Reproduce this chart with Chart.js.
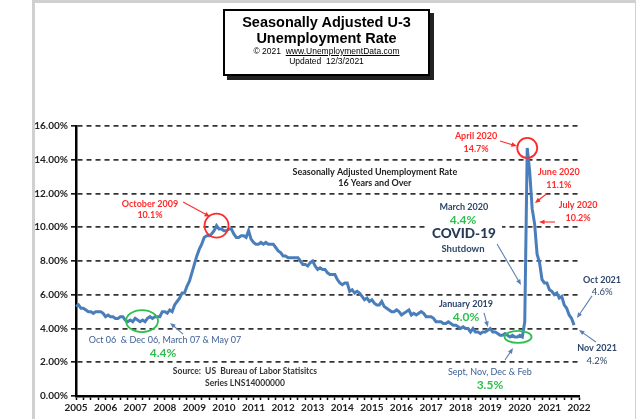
<!DOCTYPE html>
<html>
<head>
<meta charset="utf-8">
<script src="https://cdn.jsdelivr.net/npm/chart.js@4.4.0/dist/chart.umd.min.js"></script>
<style>
  body { margin: 0; background: #fff; }
  #wrap { position: relative; width: 640px; height: 419px; overflow: hidden; }
  #frame { position: absolute; left: 32px; top: 0; width: 600px; height: 430px;
           border-left: 3px solid #d0d0d0; border-top: 3px solid #d0d0d0; border-right: 1px solid #d0d0d0; }
  #titleBox { position: absolute; left: 223px; top: 9px; width: 203px; height: 63px;
              border: 2px solid #000; background: #fff; box-shadow: 4px 4px 0 #222;
              font-family: "Liberation Sans", Arial, sans-serif; text-align: center; color: #000; }
  #titleBox .t { font-weight: bold; font-size: 14.5px; line-height: 16px; }
  #titleBox .s { font-size: 8.5px; line-height: 10px; }
  canvas { position: absolute; left: 0; top: 0; }
</style>
</head>
<body>
<div id="wrap">
  <div id="frame"></div>
  <canvas id="myChart" width="640" height="419"></canvas>
  <div id="titleBox">
    <div class="t" style="margin-top:3px">Seasonally Adjusted U-3</div>
    <div class="t">Unemployment Rate</div>
    <div class="s">© 2021&nbsp; <u>www.UnemploymentData.com</u></div>
    <div class="s">Updated&nbsp; 12/3/2021</div>
  </div>
</div>
<script>
// monthly U-3 rate, Jan..Dec
const years = [2005, 2006, 2007, 2008, 2009, 2010, 2011, 2012, 2013, 2014, 2015, 2016, 2017, 2018, 2019, 2020, 2021, 2022];
const rate2005 = [5.3, 5.4, 5.2, 5.2, 5.1, 5.0, 5.0, 4.9, 5.0, 5.0, 5.0, 4.9];
const rate2006 = [4.7, 4.8, 4.7, 4.7, 4.6, 4.6, 4.7, 4.7, 4.5, 4.4, 4.5, 4.4];
const rate2007 = [4.6, 4.5, 4.4, 4.5, 4.4, 4.6, 4.7, 4.6, 4.7, 4.7, 4.7, 5.0];
const rate2008 = [5.0, 4.9, 5.1, 5.0, 5.4, 5.6, 5.8, 6.1, 6.1, 6.5, 6.8, 7.3];
const rate2009 = [7.8, 8.3, 8.7, 9.0, 9.4, 9.5, 9.5, 9.6, 9.8, 10.1, 9.9, 9.9];
const rate2010 = [9.8, 9.8, 9.9, 9.9, 9.6, 9.4, 9.4, 9.5, 9.5, 9.4, 9.8, 9.3];
const rate2011 = [9.1, 9.0, 9.0, 9.1, 9.0, 9.1, 9.0, 9.0, 9.0, 8.8, 8.6, 8.5];
const rate2012 = [8.3, 8.3, 8.2, 8.2, 8.2, 8.2, 8.2, 8.0, 7.8, 7.8, 7.7, 7.9];
const rate2013 = [8.0, 7.7, 7.5, 7.6, 7.5, 7.5, 7.3, 7.2, 7.2, 7.2, 6.9, 6.7];
const rate2014 = [6.6, 6.7, 6.7, 6.2, 6.3, 6.1, 6.2, 6.1, 5.9, 5.7, 5.8, 5.6];
const rate2015 = [5.7, 5.5, 5.4, 5.4, 5.6, 5.3, 5.2, 5.1, 5.0, 5.0, 5.1, 5.0];
const rate2016 = [4.8, 4.9, 5.0, 5.1, 4.8, 4.9, 4.8, 4.9, 5.0, 4.9, 4.7, 4.7];
const rate2017 = [4.7, 4.6, 4.4, 4.4, 4.4, 4.3, 4.3, 4.4, 4.3, 4.2, 4.2, 4.1];
const rate2018 = [4.0, 4.1, 4.0, 4.0, 3.8, 4.0, 3.8, 3.8, 3.7, 3.8, 3.8, 3.9];
const rate2019 = [4.0, 3.8, 3.8, 3.7, 3.6, 3.6, 3.7, 3.6, 3.5, 3.6, 3.5, 3.5];
const rate2020 = [3.6, 3.5, 4.4, 14.7, 13.3, 11.1, 10.2, 8.4, 7.9, 6.9, 6.7, 6.7];
const rate2021 = [6.3, 6.2, 6.0, 6.1, 5.8, 5.9, 5.4, 5.2, 4.8, 4.6, 4.2];
const yTicks = [0, 2, 4, 6, 8, 10, 12, 14, 16];

const rates = [].concat(rate2005, rate2006, rate2007, rate2008, rate2009, rate2010, rate2011,
  rate2012, rate2013, rate2014, rate2015, rate2016, rate2017, rate2018, rate2019, rate2020, rate2021);

let labels = [];
for (let i = 0; i < years.length; i++) {
  let n = years[i] === 2022 ? 1 : 12;
  for (let m = 0; m < n; m++) labels.push(years[i] + '-' + (m + 1));
}

const RED = '#ff2b2b', GREEN = '#2fbf4f', NAVY = '#2d4669', BLUE = '#3d5f94', DARK = '#222';

// annotation texts, placed in (year, percent) units
const notes = [
  ['October 2009', 2007.5, 11.38, RED, 'bold 9px Lato'],
  ['10.1%', 2007.5, 10.72, RED, 'bold 9px Lato'],
  ['April 2020', 2018.52, 15.41, RED, 'bold 9px Lato'],
  ['14.7%', 2018.52, 14.64, RED, 'bold 9px Lato'],
  ['June 2020', 2021.32, 13.27, RED, 'bold 9px Lato'],
  ['11.1%', 2021.32, 12.5, RED, 'bold 9px Lato'],
  ['July 2020', 2021.97, 11.32, RED, 'bold 9px Lato'],
  ['10.2%', 2021.97, 10.55, RED, 'bold 9px Lato'],
  ['Seasonally Adjusted Unemployment Rate', 2015.1, 13.27, DARK, 'bold 9px Lato'],
  ['16 Years and Over', 2015.1, 12.62, DARK, 'bold 9px Lato'],
  ['March 2020', 2018.11, 11.2, NAVY, 'bold 9px Lato'],
  ['4.4%', 2018.08, 10.43, GREEN, 'bold 12px Lato'],
  ['COVID-19', 2018.11, 9.6, '#263b58', '900 13.5px Lato'],
  ['Shutdown', 2018.08, 8.71, NAVY, 'bold 9.5px Lato'],
  ['Oct 2021', 2022.78, 6.87, NAVY, 'bold 9px Lato'],
  ['4.6%', 2022.78, 6.16, NAVY, '9.5px Lato'],
  ['Nov 2021', 2022.61, 2.84, NAVY, 'bold 9px Lato'],
  ['4.2%', 2022.61, 2.07, NAVY, '9.5px Lato'],
  ['January 2019', 2018.18, 5.45, NAVY, 'bold 9px Lato'],
  ['4.0%', 2018.18, 4.68, GREEN, 'bold 12px Lato'],
  ['Sept, Nov, Dec & Feb', 2018.99, 1.42, BLUE, '9px Lato'],
  ['3.5%', 2018.99, 0.65, GREEN, 'bold 12px Lato'],
  ['Oct 06  & Dec 06, March 07 & May 07', 2008.01, 3.32, BLUE, '9px Lato'],
  ['4.4%', 2007.94, 2.55, GREEN, 'bold 12px Lato'],
  ['Source:  US  Bureau of Labor Statisitcs', 2010.71, 1.48, '#333', 'bold 8.5px Lato'],
  ['Series LNS14000000', 2010.71, 0.77, '#333', 'bold 8.5px Lato']
];
// arrows: from (year, pct) to (year, pct)
const arrows = [
  [2008.62, 11.5, 2009.53, 10.62, RED],
  [2019.33, 15.11, 2019.9, 14.81, RED],
  [2020.92, 12.0, 2020.51, 11.44, RED],
  [2021.19, 10.31, 2020.65, 10.31, RED],
  [2019.23, 9.01, 2020.04, 6.58, '#5b80b4'],
  [2022.44, 5.93, 2021.93, 4.62, '#5b80b4'],
  [2022.57, 3.2, 2022.0, 3.91, '#5b80b4'],
  [2018.79, 4.92, 2018.92, 4.09, '#5b80b4'],
  [2019.5, 2.13, 2019.77, 2.84, '#5b80b4'],
  [2008.62, 3.67, 2008.18, 4.33, '#5b80b4']
];
// rings: centre (year, pct), radii in px
const rings = [
  [2009.75, 10.1, 12, 12, RED],
  [2020.25, 14.7, 10, 10, RED],
  [2007.23, 4.44, 16, 11, GREEN],
  [2019.94, 3.5, 13.5, 6, GREEN]
];
// white box behind the COVID text block (year, pct corners)
const textBox = [2016.86, 10.9, 2019.4, 9.1];

const notesPlugin = {
  id: 'notes',
  beforeDatasetsDraw(chart) {
    const ctx = chart.ctx;
    const xs = chart.scales.x, ys = chart.scales.y;
    const X = yr => xs.getPixelForValue((yr - 2005) * 12);
    const Y = v => ys.getPixelForValue(v);
    ctx.save();
    ctx.fillStyle = '#fff';
    ctx.fillRect(X(textBox[0]), Y(textBox[1]), X(textBox[2]) - X(textBox[0]), Y(textBox[3]) - Y(textBox[1]));
    ctx.restore();
  },
  afterDatasetsDraw(chart) {
    const ctx = chart.ctx;
    const xs = chart.scales.x, ys = chart.scales.y;
    const X = yr => xs.getPixelForValue((yr - 2005) * 12);
    const Y = v => ys.getPixelForValue(v);
    ctx.save();
    for (let r of rings) {
      ctx.beginPath();
      ctx.ellipse(X(r[0]), Y(r[1]), r[2], r[3], 0, 0, Math.PI * 2);
      ctx.strokeStyle = r[4];
      ctx.lineWidth = 1.8;
      ctx.stroke();
    }
    for (let a of arrows) {
      let x1 = X(a[0]), y1 = Y(a[1]), x2 = X(a[2]), y2 = Y(a[3]);
      let ang = Math.atan2(y2 - y1, x2 - x1);
      ctx.strokeStyle = a[4];
      ctx.fillStyle = a[4];
      ctx.lineWidth = 1.1;
      ctx.beginPath();
      ctx.moveTo(x1, y1);
      ctx.lineTo(x2 - 4 * Math.cos(ang), y2 - 4 * Math.sin(ang));
      ctx.stroke();
      ctx.beginPath();
      ctx.moveTo(x2, y2);
      ctx.lineTo(x2 - 6 * Math.cos(ang - 0.4), y2 - 6 * Math.sin(ang - 0.4));
      ctx.lineTo(x2 - 6 * Math.cos(ang + 0.4), y2 - 6 * Math.sin(ang + 0.4));
      ctx.closePath();
      ctx.fill();
    }
    ctx.textAlign = 'center';
    ctx.textBaseline = 'middle';
    for (let n of notes) {
      ctx.font = n[4];
      ctx.fillStyle = n[3];
      ctx.fillText(n[0], X(n[1]), Y(n[2]));
    }
    ctx.restore();
  }
};

let ctx = document.getElementById('myChart').getContext('2d');
let myChart = new Chart(ctx, {
  type: 'line',
  data: {
    labels: labels,
    datasets: [{
      label: 'U-3',
      data: rates,
      borderColor: '#4a7ebb',
      borderWidth: 3,
      pointRadius: 0,
      tension: 0
    }]
  },
  options: {
    responsive: false,
    animation: false,
    layout: { padding: { left: 20, top: 126, right: 61, bottom: 0 } },
    plugins: { legend: { display: false }, tooltip: { enabled: false } },
    scales: {
      x: {
        type: 'category',
        offset: false,
        afterFit: s => { s.height = 23; },
        grid: {
          drawOnChartArea: false,
          tickLength: 4,
          tickColor: c => (c.index % 3 === 0 ? '#000' : 'rgba(0,0,0,0)'),
          tickWidth: 1.5
        },
        border: { color: '#000', width: 2.5 },
        ticks: {
          autoSkip: false,
          maxRotation: 0,
          padding: 2,
          color: '#222',
          font: { family: 'Lato', weight: 'bold', size: 10 },
          callback: function (value, index) {
            return index % 12 === 0 ? String(years[index / 12]) : '';
          }
        }
      },
      y: {
        min: 0,
        max: 16,
        afterFit: s => { s.width = 56; },
        afterBuildTicks: s => { s.ticks = yTicks.map(v => ({ value: v })); },
        grid: {
          color: '#333',
          lineWidth: 1.7,
          tickLength: 5,
          tickColor: '#000',
          tickWidth: 1.5
        },
        border: { color: '#000', width: 2.5, dash: [5, 4] },
        ticks: {
          padding: 3,
          color: '#222',
          font: { family: 'Lato', weight: 'bold', size: 10 },
          callback: function (value) { return value.toFixed(2) + '%'; }
        }
      }
    }
  },
  plugins: [notesPlugin]
});
</script>
</body>
</html>
